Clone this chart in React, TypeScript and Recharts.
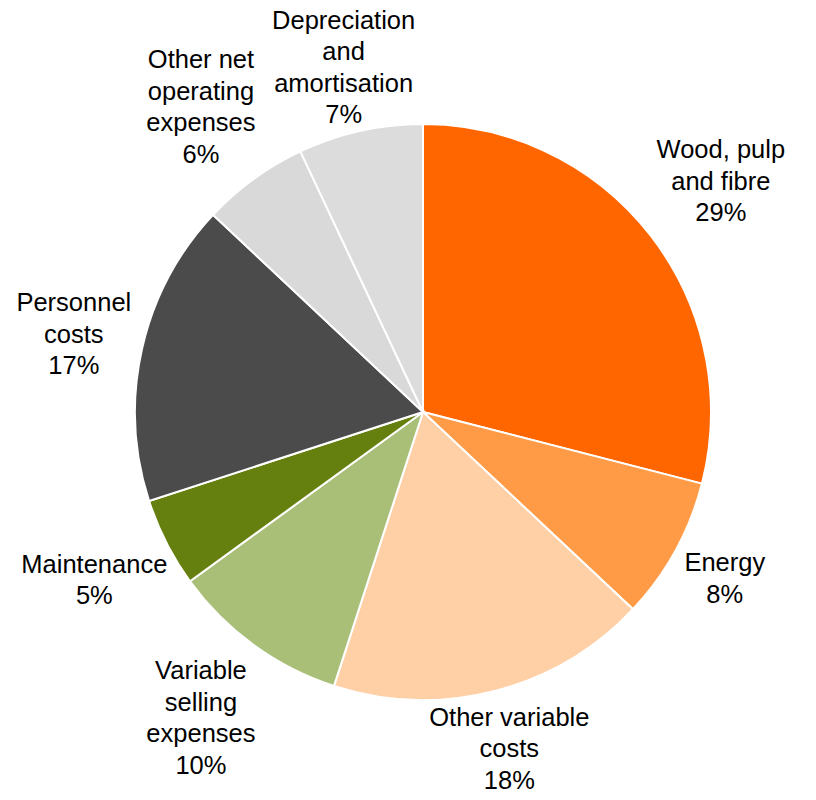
import { PieChart, Pie, Cell } from 'recharts'

const categories = [
  'Wood, pulp\nand fibre',
  'Energy',
  'Other variable\ncosts',
  'Variable\nselling\nexpenses',
  'Maintenance',
  'Personnel\ncosts',
  'Other net\noperating\nexpenses',
  'Depreciation\nand\namortisation',
]
const shares = [29, 8, 18, 10, 5, 17, 6, 7]
const colors = ['#FF6600', '#FF9B47', '#FFCFA6', '#A9BF78', '#66800F', '#4B4B4B', '#D9D9D9', '#DCDCDC']

const data = categories.map((name, i) => ({ name, value: shares[i] }))

const FONT = '"Liberation Sans", Arial, sans-serif'
const FONT_SIZE = 25.5
const LINE_H = 31.5

let ctx: CanvasRenderingContext2D | null = null
function textWidth(s: string) {
  if (!ctx) ctx = document.createElement('canvas').getContext('2d')
  if (!ctx) return s.length * FONT_SIZE * 0.5
  ctx.font = `${FONT_SIZE}px ${FONT}`
  return ctx.measureText(s).width
}

const RADIAN = Math.PI / 180

// label box sits outside the slice: its edge touches a point a bit beyond the rim
function renderLabel(props: any) {
  const { cx, cy, midAngle, outerRadius, index } = props
  const lines = [...categories[index].split('\n'), `${shares[index]}%`]
  const w = Math.max(...lines.map(textWidth))
  const h = lines.length * LINE_H
  const cos = Math.cos(-midAngle * RADIAN)
  const sin = Math.sin(-midAngle * RADIAN)
  const toEdge = Math.min(
    Math.abs(cos) > 1e-6 ? w / 2 / Math.abs(cos) : Infinity,
    Math.abs(sin) > 1e-6 ? h / 2 / Math.abs(sin) : Infinity,
  )
  const d = outerRadius + 8 + toEdge * 1.05
  const x = cx + d * cos
  const y = cy + d * sin
  // keep the block inside the chart area
  const top = Math.max(y - ((lines.length - 1) * LINE_H) / 2, LINE_H / 2 + 4)
  return (
    <text
      key={`lbl-${index}`}
      x={x}
      y={top}
      textAnchor="middle"
      dominantBaseline="central"
      fontFamily={FONT}
      fontSize={FONT_SIZE}
      fill="#000"
    >
      {lines.map((l, i) => (
        <tspan key={i} x={x} y={top + i * LINE_H}>
          {l}
        </tspan>
      ))}
    </text>
  )
}

export default function App() {
  return (
    <div style={{ margin: -8, width: 816, height: 800, background: '#fff' }}>
      <PieChart width={816} height={800} margin={{ top: 0, right: 0, bottom: 0, left: 0 }}>
        <Pie
          data={data}
          dataKey="value"
          nameKey="name"
          cx={423}
          cy={412}
          outerRadius={288}
          startAngle={90}
          endAngle={-270}
          stroke="#fff"
          strokeWidth={2}
          label={renderLabel}
          labelLine={false}
          isAnimationActive={false}
        >
          {data.map((d, i) => (
            <Cell key={d.name} fill={colors[i]} />
          ))}
        </Pie>
      </PieChart>
    </div>
  )
}
